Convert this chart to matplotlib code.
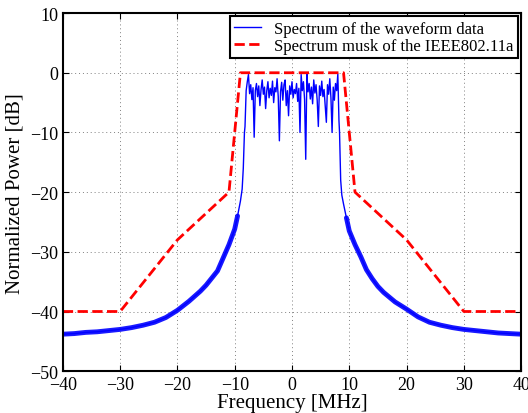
import numpy as np
import matplotlib
matplotlib.use("Agg")
import matplotlib.pyplot as plt

plt.rcParams['font.family'] = ['Liberation Serif', 'DejaVu Serif']
plt.rcParams['mathtext.fontset'] = 'stix'

# spectrum mask of IEEE802.11a
mask_f = [-40, -30, -20, -11, -9, 9, 11, 20, 30, 40]
mask_db = [-40, -40, -28, -20, 0, 0, -20, -28, -40, -40]

# measured spectrum, out-of-band (left / right)
left_f = [-40, -38, -36, -34, -32, -30, -28, -26, -24, -22, -20, -18, -16, -15,
          -14, -13, -12, -11, -10, -9.5, -9, -8.7, -8.5, -8.3]
left_db = [-43.8, -43.7, -43.5, -43.4, -43.2, -43.0, -42.7, -42.3, -41.8, -41.0,
           -39.8, -38.3, -36.6, -35.6, -34.4, -33.2, -31.0, -28.8, -26.2, -24.0,
           -21.5, -19.5, -16.0, -10.0]
right_f = [8.3, 8.5, 8.7, 9, 9.5, 10, 11, 12, 13, 14, 15, 16, 18, 20, 22, 24,
           26, 28, 30, 32, 34, 36, 38, 40]
right_db = [-10.0, -18.0, -20.5, -22.0, -24.3, -26.5, -28.8, -30.8, -33.0, -34.5,
            -35.8, -36.8, -38.4, -39.6, -40.9, -41.8, -42.3, -42.7, -43.0, -43.2,
            -43.4, -43.6, -43.7, -43.8]

# in-band part, -8.2 .. 8.2 MHz in 0.2 MHz steps
band_db = [-9, -3, -1.5, -0.3, -3.5, -2, -4.5, -2.5, -10.8, -3,
           -1.8, -4, -2.2, -5.5, -2.8, -1.2, -3.6, -2.4, -6, -3,
           -1.5, -4.2, -2.6, -3.8, -1.4, -5, -2.5, -3.2, -1, -4,
           -11.4, -3.2, -1.6, -4.6, -2, -1.2, -5.5, -3, -7.2, -2.2,
           -3.6, -1.5, -4.2, -2.8, -3.5, -1.8, -4.8, -2.6, -10, -0.3,
           -3, -1.5, -4.5, -14.5, -0.2, -3.2, -1.8, -4.4, -2.4, -5.2,
           -1.2, -3.4, -2, -4.6, -9, -2.2, -3.8, -1.4, -4, -2.8,
           -5.5, -8.3, -2, -3.6, -1, -4.2, -10, -2.4, -4.6, -1.8,
           -3, -0.2, -8]
band_f = np.linspace(-8.2, 8.2, len(band_db))

freq = np.concatenate([left_f, band_f, right_f])
power = np.concatenate([left_db, band_db, right_db])

fig = plt.figure(figsize=(5.28, 4.14), dpi=100)
ax = fig.add_axes([0.119, 0.101, 0.868, 0.865])

ax.plot(freq, power, color='blue', lw=1, label='Spectrum of the waveform data')
# the far sidelobes are drawn as a thick band, as in the original
lf = np.array(left_f); ld = np.array(left_db)
rf = np.array(right_f); rd = np.array(right_db)
ax.plot(lf[ld < -23], ld[ld < -23], color='blue', lw=3.5, alpha=0.9,
        solid_capstyle='round')
ax.plot(rf[rd < -23], rd[rd < -23], color='blue', lw=3.5, alpha=0.9,
        solid_capstyle='round')
ax.plot(mask_f, mask_db, color='red', ls='--', lw=2,
        label='Spectrum musk of the IEEE802.11a')

ax.set_xlim(-40, 40)
ax.set_ylim(-50, 10)
ax.set_xticks(np.arange(-40, 41, 10))
ax.set_yticks(np.arange(-50, 11, 10))
ax.grid(True, ls=(0, (1, 3)), color='#808080', lw=0.7)
ax.tick_params(direction='in', top=True, right=True, labelsize=13, length=4)
for s in ax.spines.values():
    s.set_linewidth(1.5)
ax.set_xlabel('Frequency [MHz]', fontsize=15, labelpad=0)
ax.set_ylabel('Normalized Power [dB]', fontsize=15, labelpad=4)

leg = ax.legend(loc='upper right', fontsize=12, fancybox=False, framealpha=1,
                edgecolor='black', borderaxespad=0.2, handlelength=1.6,
                borderpad=0.25, labelspacing=0.1)
leg.get_frame().set_linewidth(1.5)

fig.savefig('out.png', dpi=100)
